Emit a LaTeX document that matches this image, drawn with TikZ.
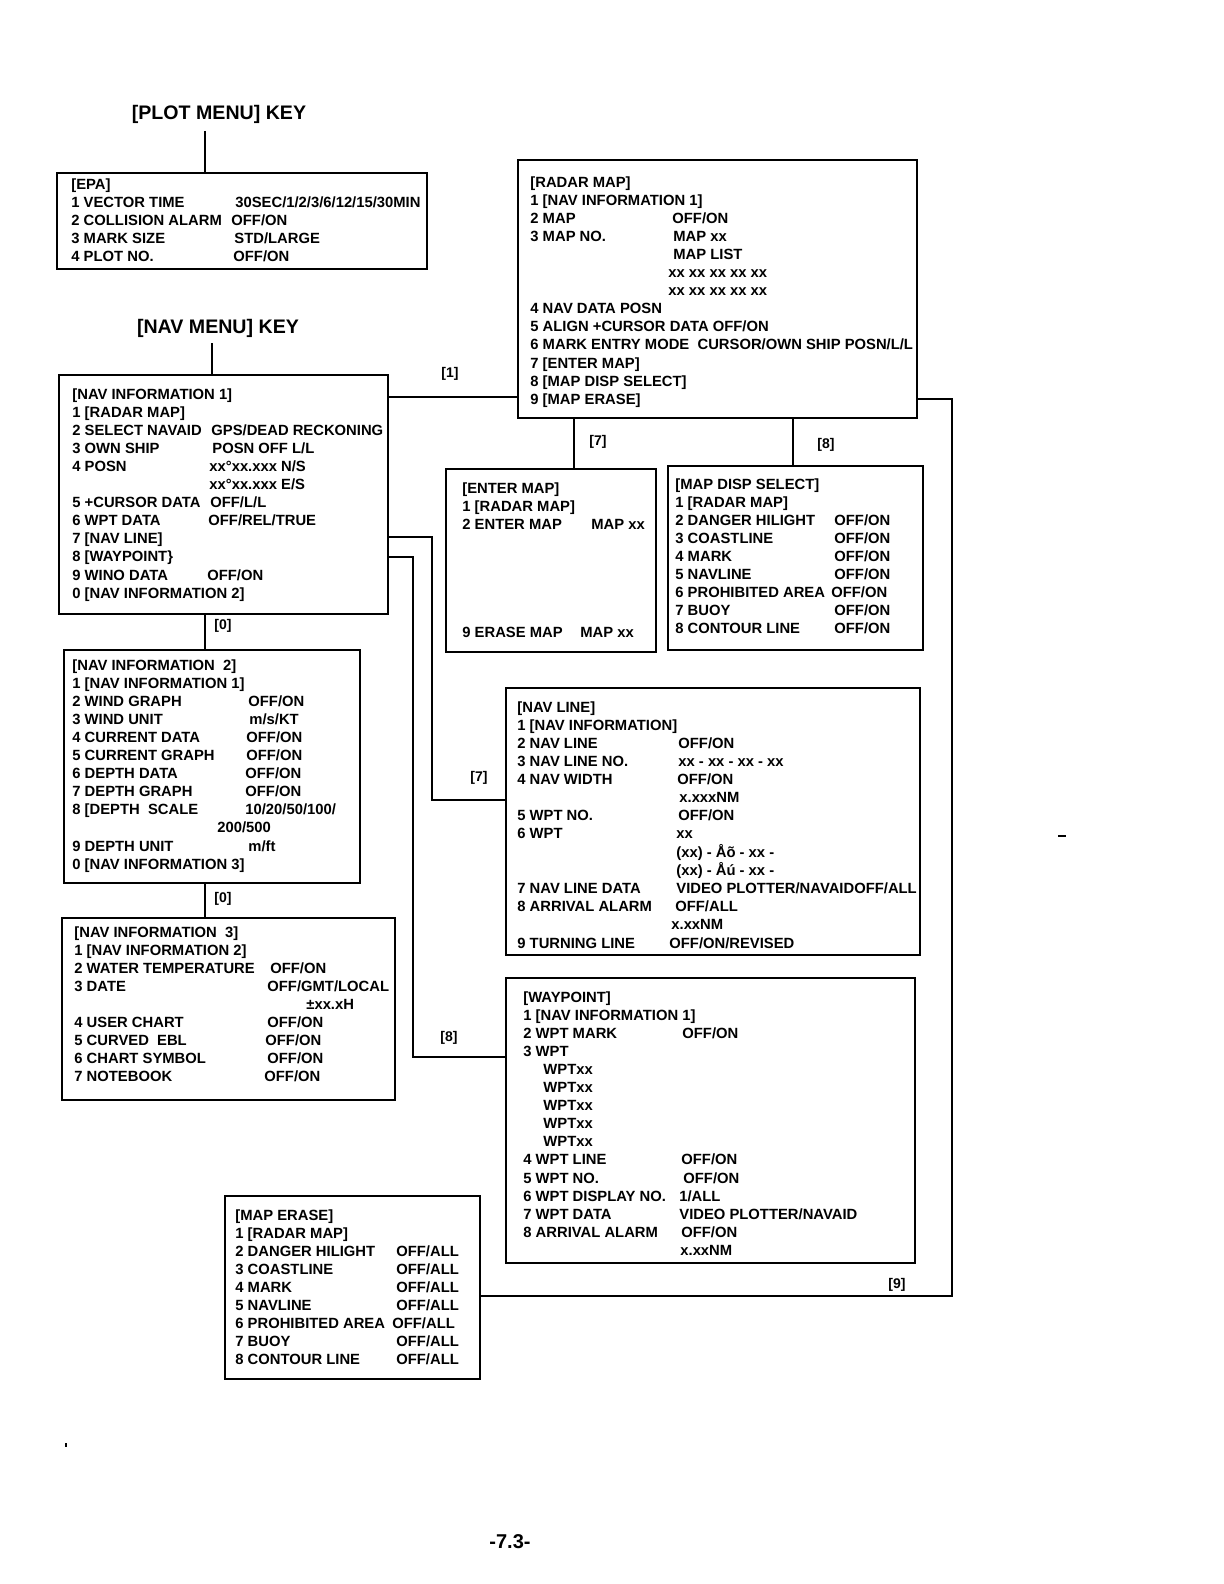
\documentclass[tikz,border=0pt]{standalone}
\usepackage{fontspec}
\setmainfont{Liberation Sans}
\usetikzlibrary{calc}
\newlength\pxu \setlength\pxu{0.5pt}
\newcommand\kv[3]{\makebox[#1\pxu][l]{#2}#3}
\begin{document}
\begin{tikzpicture}[x=0.5pt,y=-0.5pt,
  menubox/.style={draw, line width=1.2pt, inner sep=0pt, anchor=north west},
  menutext/.style={anchor=base west, inner sep=0pt, font=\fontsize{7.4}{9.05}\selectfont\bfseries},
  keytext/.style={font=\fontsize{9.8}{11}\selectfont\bfseries, inner sep=0pt},
  tag/.style={font=\fontsize{7}{8}\selectfont\bfseries, inner sep=0pt},
  wire/.style={line width=1.2pt}]
\useasboundingbox (0,0) rectangle (1224,1584);
\fill[white] (0,0) rectangle (1224,1584);

% ---------- boxes ----------
\node[menubox, minimum width=185pt,   minimum height=48pt]    (epa)      at (56,172)  {};
\node[menubox, minimum width=164.5pt, minimum height=119.5pt] (nav1)     at (58,374)  {};
\node[menubox, minimum width=148pt,   minimum height=116.5pt] (nav2)     at (63,649)  {};
\node[menubox, minimum width=166.5pt, minimum height=91pt]    (nav3)     at (61,917)  {};
\node[menubox, minimum width=127.5pt, minimum height=91.5pt]  (maperase) at (224,1195) {};
\node[menubox, minimum width=199.5pt, minimum height=129pt]   (radar)    at (517,159) {};
\node[menubox, minimum width=105pt,   minimum height=91.5pt]  (enter)    at (445,468) {};
\node[menubox, minimum width=127.5pt, minimum height=92pt]    (disp)     at (667,465) {};
\node[menubox, minimum width=207pt,   minimum height=133.5pt] (navline)  at (505,687) {};
\node[menubox, minimum width=204.5pt, minimum height=142.5pt] (waypt)    at (505,977) {};

% ---------- key titles ----------
\node[keytext] (plotkey) at (219,114) {[PLOT MENU] KEY};
\node[keytext] (navkey)  at (218,328) {[NAV MENU] KEY};

% ---------- texts ----------
\node[menutext] (epaT) at (71,189) {\begin{tabular}[t]{@{}l@{}}
{[EPA]}\\
\kv{164}{1 VECTOR TIME}{30SEC/1/2/3/6/12/15/30MIN}\\
\kv{160}{2 COLLISION ALARM}{OFF/ON}\\
\kv{163}{3 MARK SIZE}{STD/LARGE}\\
\kv{162}{4 PLOT NO.}{OFF/ON}
\end{tabular}};

\node[menutext] (nav1T) at (72,399) {\begin{tabular}[t]{@{}l@{}}
{[NAV INFORMATION 1]}\\
1 [RADAR MAP]\\
\kv{139}{2 SELECT NAVAID}{GPS/DEAD RECKONING}\\
\kv{140}{3 OWN SHIP}{POSN OFF L/L}\\
\kv{137}{4 POSN}{xx°xx.xxx N/S}\\
\kv{137}{}{xx°xx.xxx E/S}\\
\kv{138}{5 +CURSOR DATA}{OFF/L/L}\\
\kv{136}{6 WPT DATA}{OFF/REL/TRUE}\\
7 [NAV LINE]\\
8 [WAYPOINT\}\\
\kv{135}{9 WINO DATA}{OFF/ON}\\
0 [NAV INFORMATION 2]
\end{tabular}};

\node[menutext] (nav2T) at (72,670) {\begin{tabular}[t]{@{}l@{}}
{[NAV INFORMATION\ \ 2]}\\
1 [NAV INFORMATION 1]\\
\kv{176}{2 WIND GRAPH}{OFF/ON}\\
\kv{177}{3 WIND UNIT}{m/s/KT}\\
\kv{174}{4 CURRENT DATA}{OFF/ON}\\
\kv{174}{5 CURRENT GRAPH}{OFF/ON}\\
\kv{173}{6 DEPTH DATA}{OFF/ON}\\
\kv{173}{7 DEPTH GRAPH}{OFF/ON}\\
\kv{173}{8 [DEPTH\ \ SCALE}{10/20/50/100/}\\
\kv{145}{}{200/500}\\
\kv{176}{9 DEPTH UNIT}{m/ft}\\
0 [NAV INFORMATION 3]
\end{tabular}};

\node[menutext] (nav3T) at (74,937) {\begin{tabular}[t]{@{}l@{}}
{[NAV INFORMATION\ \ 3]}\\
1 [NAV INFORMATION 2]\\
\kv{196}{2 WATER TEMPERATURE}{OFF/ON}\\
\kv{193}{3 DATE}{OFF/GMT/LOCAL}\\
\kv{232}{}{±xx.xH}\\
\kv{193}{4 USER CHART}{OFF/ON}\\
\kv{191}{5 CURVED\ \ EBL}{OFF/ON}\\
\kv{193}{6 CHART SYMBOL}{OFF/ON}\\
\kv{190}{7 NOTEBOOK}{OFF/ON}
\end{tabular}};

\node[menutext] (maperaseT) at (235,1220) {\begin{tabular}[t]{@{}l@{}}
{[MAP ERASE]}\\
1 [RADAR MAP]\\
\kv{161}{2 DANGER HILIGHT}{OFF/ALL}\\
\kv{161}{3 COASTLINE}{OFF/ALL}\\
\kv{161}{4 MARK}{OFF/ALL}\\
\kv{161}{5 NAVLINE}{OFF/ALL}\\
\kv{157}{6 PROHIBITED AREA}{OFF/ALL}\\
\kv{161}{7 BUOY}{OFF/ALL}\\
\kv{161}{8 CONTOUR LINE}{OFF/ALL}
\end{tabular}};

\node[menutext] (radarT) at (530,187) {\begin{tabular}[t]{@{}l@{}}
{[RADAR MAP]}\\
1 [NAV INFORMATION 1]\\
\kv{142}{2 MAP}{OFF/ON}\\
\kv{143}{3 MAP NO.}{MAP xx}\\
\kv{143}{}{MAP LIST}\\
\kv{138}{}{xx xx xx xx xx}\\
\kv{138}{}{xx xx xx xx xx}\\
4 NAV DATA POSN\\
5 ALIGN +CURSOR DATA OFF/ON\\
6 MARK ENTRY MODE\ \ CURSOR/OWN SHIP POSN/L/L\\
7 [ENTER MAP]\\
8 [MAP DISP SELECT]\\
9 [MAP ERASE]
\end{tabular}};

\node[menutext] (enterT) at (462,493) {\begin{tabular}[t]{@{}l@{}}
{[ENTER MAP]}\\
1 [RADAR MAP]\\
\kv{129}{2 ENTER MAP}{MAP xx}\\
\\ \\ \\ \\ \\
\kv{118}{9 ERASE MAP}{MAP xx}
\end{tabular}};

\node[menutext] (dispT) at (675,489) {\begin{tabular}[t]{@{}l@{}}
{[MAP DISP SELECT]}\\
1 [RADAR MAP]\\
\kv{159}{2 DANGER HILIGHT}{OFF/ON}\\
\kv{159}{3 COASTLINE}{OFF/ON}\\
\kv{159}{4 MARK}{OFF/ON}\\
\kv{159}{5 NAVLINE}{OFF/ON}\\
\kv{156}{6 PROHIBITED AREA}{OFF/ON}\\
\kv{159}{7 BUOY}{OFF/ON}\\
\kv{159}{8 CONTOUR LINE}{OFF/ON}
\end{tabular}};

\node[menutext] (navlineT) at (517,712) {\begin{tabular}[t]{@{}l@{}}
{[NAV LINE]}\\
1 [NAV INFORMATION]\\
\kv{161}{2 NAV LINE}{OFF/ON}\\
\kv{161}{3 NAV LINE NO.}{xx - xx - xx - xx}\\
\kv{160}{4 NAV WIDTH}{OFF/ON}\\
\kv{162}{}{x.xxxNM}\\
\kv{161}{5 WPT NO.}{OFF/ON}\\
\kv{159}{6 WPT}{xx}\\
\kv{159}{}{(xx) - Åõ - xx -}\\
\kv{159}{}{(xx) - Åú - xx -}\\
\kv{159}{7 NAV LINE DATA}{VIDEO PLOTTER/NAVAIDOFF/ALL}\\
\kv{158}{8 ARRIVAL ALARM}{OFF/ALL}\\
\kv{154}{}{x.xxNM}\\
\kv{152}{9 TURNING LINE}{OFF/ON/REVISED}
\end{tabular}};

\node[menutext] (wayptT) at (523,1002) {\begin{tabular}[t]{@{}l@{}}
{[WAYPOINT]}\\
1 [NAV INFORMATION 1]\\
\kv{159}{2 WPT MARK}{OFF/ON}\\
3 WPT\\
\kv{20}{}{WPTxx}\\
\kv{20}{}{WPTxx}\\
\kv{20}{}{WPTxx}\\
\kv{20}{}{WPTxx}\\
\kv{20}{}{WPTxx}\\
\kv{158}{4 WPT LINE}{OFF/ON}\\
\kv{160}{5 WPT NO.}{OFF/ON}\\
\kv{156}{6 WPT DISPLAY NO.}{1/ALL}\\
\kv{156}{7 WPT DATA}{VIDEO PLOTTER/NAVAID}\\
\kv{158}{8 ARRIVAL ALARM}{OFF/ON}\\
\kv{157}{}{x.xxNM}
\end{tabular}};

% ---------- connectors ----------
\coordinate (plotpt) at (205,131);
\draw[wire] (plotpt) -- (plotpt |- epa.north);
\coordinate (navpt) at (212,343);
\draw[wire] (navpt) -- (navpt |- nav1.north);

\coordinate (c1) at (0,397);
\draw[wire] (nav1.east |- c1) -- (radar.west |- c1);

\coordinate (c0) at (205,0);
\draw[wire] (c0 |- nav1.south) -- (c0 |- nav2.north);
\draw[wire] (c0 |- nav2.south) -- (c0 |- nav3.north);

\coordinate (c7) at (574,0);
\draw[wire] (c7 |- radar.south) -- (c7 |- enter.north);
\coordinate (c8) at (793,0);
\draw[wire] (c8 |- radar.south) -- (c8 |- disp.north);

\coordinate (k7a) at (432,537);
\coordinate (k7b) at (432,800);
\draw[wire] (nav1.east |- k7a) -- (k7a) -- (k7b) -- (navline.west |- k7b);

\coordinate (k8a) at (413,557);
\coordinate (k8b) at (413,1057);
\draw[wire] (nav1.east |- k8a) -- (k8a) -- (k8b) -- (waypt.west |- k8b);

\coordinate (k9a) at (952,399);
\coordinate (k9b) at (952,1296);
\draw[wire] (radar.east |- k9a) -- (k9a) -- (k9b) -- (maperase.east |- k9b);

% ---------- tags ----------
\node[tag] (t1)  at (450,374)  {[1]};
\node[tag] (t0a) at (223,626)  {[0]};
\node[tag] (t0b) at (223,899)  {[0]};
\node[tag] (t7a) at (598,442)  {[7]};
\node[tag] (t8a) at (826,445)  {[8]};
\node[tag] (t7b) at (479,778)  {[7]};
\node[tag] (t8b) at (449,1038) {[8]};
\node[tag] (t9)  at (897,1285) {[9]};

% ---------- page number and specks ----------
\node[font=\fontsize{10}{12}\selectfont\bfseries, inner sep=0pt] (pagenum) at (510,1542) {-7.3-};
\fill (1058,835) rectangle (1066,837);
\fill (65,1443) rectangle (67,1447);
\end{tikzpicture}
\end{document}
